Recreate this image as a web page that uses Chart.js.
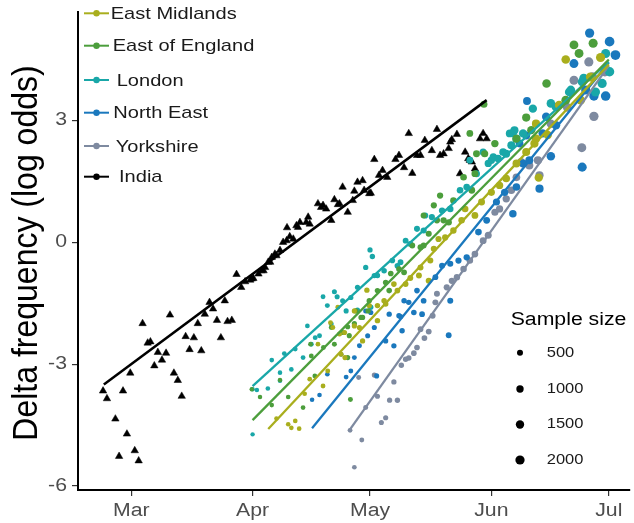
<!DOCTYPE html>
<html>
<head>
<meta charset="utf-8">
<script src="https://cdn.jsdelivr.net/npm/chart.js@4.4.0/dist/chart.umd.min.js"></script>
<style>
  html, body { margin: 0; padding: 0; background: #ffffff; overflow: hidden; }
  #wrap { width: 634px; height: 523px; }
</style>
</head>
<body>
<div id="wrap"><canvas id="chart" width="634" height="523"></canvas></div>
<script>
// x values are days counted from 1 March; y values are log odds of Delta.
const xTickDays = [0, 31, 61, 92, 122];
const xTickLabels = ['Mar', 'Apr', 'May', 'Jun', 'Jul'];
const yTickValues = [-6, -3, 0, 3];
const yTitle = 'Delta frequency (log odds)';
const sizeTitle = 'Sample size';
const sampleSizeBreaks = [500, 1000, 1500, 2000];
const regionNames = ['East Midlands', 'East of England', 'London', 'North East', 'Yorkshire'];
const indiaName = 'India';

// Regional daily points: [day, log odds, sample size]
const eastMidlandsPts = [
  [37.1,-4.34,150],[40.1,-4.48,160],[40.9,-4.57,160],[41.9,-4.40,170],[42.9,-4.59,170],[44.3,-3.73,180],
  [45.6,-3.37,190],[47.7,-2.51,200],[49.0,-3.54,200],[50.2,-3.17,210],[50.9,-1.98,220],[51.5,-2.10,220],
  [52.8,-1.60,230],[53.2,-2.26,240],[53.6,-2.76,240],[54.5,-2.22,250],[54.6,-2.84,250],[57.0,-2.06,270],
  [57.0,-1.69,270],[58.3,-2.10,280],[59.1,-2.43,290],[60.2,-1.18,300],[60.8,-1.56,310],[62.9,-1.93,330],
  [62.9,-1.56,330],[64.6,-1.44,350],[65.0,-1.52,360],[67.1,-1.03,380],[68.0,-1.19,400],[70.1,-1.03,420],
  [71.3,-0.88,440],[73.5,-0.82,470],[73.9,-0.62,480],[76.0,-0.95,500],[76.4,-0.45,510],[77.3,-0.16,530],
  [78.5,0.08,550],[80.2,0.12,580],[82.3,0.29,620],[84.4,0.54,680],[85.3,0.82,700],[87.8,0.66,760],
  [89.5,0.99,820],[92.0,1.23,900],[94.1,1.40,1000],[95.8,1.57,1100],[98.4,1.94,1200],[100.9,2.22,1300],
  [103.0,2.43,1400],[103.4,2.55,1400],[103.4,2.92,1400],[104.1,1.59,1450],[106.4,2.64,1500],[109.3,3.38,1600],
  [111.0,4.50,1650],[114.8,3.50,1750],[117.3,4.07,1850],[119.9,4.55,1950]
];
const eastOfEnglandPts = [
  [30.8,-3.62,150],[32.9,-3.81,140],[35.9,-4.01,150],[38.0,-3.39,160],[40.1,-3.81,170],[43.9,-4.07,180],
  [45.8,-2.51,190],[46.0,-2.80,200],[46.9,-3.29,190],[49.1,-2.59,210],[51.1,-2.10,220],[51.9,-2.51,230],
  [54.0,-2.22,240],[55.3,-2.84,250],[55.3,-2.08,250],[55.7,-2.30,260],[56.0,-3.87,230],[57.0,-2.00,270],
  [57.4,-1.69,280],[58.7,-1.85,290],[59.1,-1.85,290],[60.5,-1.69,300],[60.8,-1.44,310],[62.9,-1.19,330],
  [65.0,-0.99,360],[65.9,-1.19,370],[66.3,-0.77,380],[68.4,-0.66,400],[69.7,-0.74,420],[71.8,-0.08,450],
  [73.9,-0.12,480],[74.7,-0.08,490],[74.7,0.66,500],[76.0,0.21,520],[77.3,0.91,540],[78.1,0.54,560],
  [78.9,1.15,580],[79.8,0.54,600],[81.1,0.49,620],[82.3,1.03,650],[84.9,1.60,700],[86.5,2.68,750],
  [87.0,1.28,780],[87.8,1.69,800],[88.2,2.18,820],[90.1,3.40,880],[90.3,2.18,900],[92.9,2.43,1000],
  [98.4,2.55,1300],[100.9,3.07,1400],[102.2,2.76,1450],[106.1,3.91,1600],[111.0,3.50,1700],[113.1,4.86,1750],
  [114.4,4.65,1800],[118.0,4.90,1900]
];
const londonPts = [
  [31.0,-3.62,150],[32.1,-3.64,140],[34.9,-3.60,160],[31.0,-4.73,120],[35.9,-2.90,170],[38.0,-3.21,150],
  [38.0,-3.41,160],[39.1,-2.74,180],[40.9,-3.13,170],[41.9,-2.63,190],[43.9,-2.84,200],[45.0,-2.06,180],
  [46.0,-2.51,210],[47.0,-2.35,200],[48.1,-2.30,220],[49.0,-1.34,210],[50.1,-1.56,230],[51.1,-2.01,220],
  [51.9,-1.22,240],[52.6,-1.34,250],[54.0,-1.44,240],[54.9,-1.69,260],[56.1,-1.36,270],[57.8,-1.11,280],
  [57.8,-1.67,260],[59.9,-0.62,300],[61.0,-0.19,290],[61.2,-1.60,300],[61.6,-0.35,320],[62.1,-0.82,310],
  [62.9,-0.82,330],[64.6,-0.70,350],[66.7,-0.45,380],[68.0,-0.58,400],[68.8,-0.49,420],[70.1,0.04,450],
  [71.3,-0.04,470],[73.0,0.33,500],[74.7,0.29,520],[75.1,0.66,540],[76.8,0.62,560],[79.4,0.78,600],
  [81.5,0.82,650],[84.0,1.28,700],[85.7,1.36,750],[86.5,2.02,800],[88.2,1.69,850],[89.9,2.22,900],
  [91.2,1.94,950],[92.0,2.02,1000],[92.5,2.10,1000],[93.7,2.06,1100],[95.0,2.22,1150],[95.8,2.18,1200],
  [96.7,2.68,1250],[97.1,2.39,1300],[97.5,2.69,1300],[97.9,2.76,1350],[98.4,2.55,1400],[100.1,2.68,1450],
  [102.6,3.29,1500],[107.2,3.42,1600],[108.5,3.33,1650],[111.9,3.70,1700],[112.3,3.75,1700],[115.2,3.95,1800],
  [115.6,4.04,1800],[118.6,3.70,1900],[120.3,3.91,2000],[121.2,4.65,1900],[122.2,4.20,2100]
];
const northEastPts = [
  [46.2,-3.88,150],[48.1,-3.76,160],[50.1,-3.25,170],[53.6,-2.76,190],[54.9,-3.32,200],[56.1,-3.17,210],
  [57.0,-2.84,220],[58.3,-2.55,230],[59.9,-1.69,240],[60.4,-2.30,250],[61.2,-1.73,260],[62.1,-2.10,260],
  [62.7,-3.29,250],[65.0,-2.43,280],[65.9,-1.77,300],[67.1,-2.55,300],[68.4,-1.81,320],[68.8,-1.83,330],
  [69.2,-2.18,330],[69.7,-1.44,340],[70.9,-1.48,350],[72.2,-1.73,370],[73.0,-1.19,380],[74.3,-1.77,400],
  [74.7,-1.44,410],[77.7,-0.86,450],[79.4,-0.58,480],[81.1,-2.29,450],[81.5,-1.44,500],[81.5,-0.53,520],
  [83.6,-0.45,560],[85.7,-0.37,600],[88.7,0.25,700],[90.8,0.54,780],[93.3,0.99,900],[95.4,1.23,1000],
  [97.5,0.70,1050],[98.4,1.36,1100],[99.2,2.43,1150],[100.1,1.94,1200],[100.9,2.63,1250],[101.1,3.48,1250],
  [101.7,2.02,1300],[104.3,1.32,1400],[105.1,2.68,1450],[106.0,3.09,1500],[107.2,2.12,1550],[108.5,2.88,1600],
  [113.1,4.40,1800],[115.2,1.85,1900],[116.1,3.75,1950],[117.1,5.15,2000],[118.2,3.60,2050],[121.2,3.60,2200],
  [122.2,4.94,2300],[123.7,4.61,2300]
];
const yorkshirePts = [
  [55.9,-4.63,200],[57.0,-5.54,180],[58.1,-3.33,220],[58.9,-4.87,210],[59.9,-4.07,230],[62.1,-3.27,260],
  [62.9,-3.79,260],[63.9,-4.44,250],[65.0,-4.32,270],[66.0,-3.89,290],[67.1,-3.44,300],[68.0,-3.89,310],
  [69.0,-3.03,330],[70.1,-2.88,350],[70.9,-2.85,360],[72.2,-2.73,380],[73.0,-2.59,390],[73.9,-2.14,400],
  [74.9,-2.36,420],[76.0,-2.20,440],[77.0,-1.81,460],[77.7,-1.48,480],[78.1,-1.27,490],[80.6,-1.11,540],
  [81.9,-0.95,580],[83.2,-0.86,610],[84.9,-0.66,650],[86.5,-0.45,700],[87.8,-0.29,740],[89.9,0.04,800],
  [91.2,0.17,850],[92.9,0.74,900],[94.1,0.82,950],[95.8,1.07,1000],[97.1,1.28,1100],[98.4,1.60,1150],
  [99.6,1.98,1200],[101.7,1.89,1300],[103.9,2.02,1400],[104.3,1.65,1400],[107.2,2.92,1550],[111.4,3.32,1700],
  [113.1,3.99,1800],[115.1,2.33,1850],[116.9,4.44,1950],[117.8,4.07,2000],[118.2,3.10,2000],[121.0,4.20,2100]
];

// India daily points: [day, log odds]
const indiaPts = [
  [-7.2,-3.66],[-6.2,-3.85],[-4.05,-4.35],[-3.1,-5.27],[-2.1,-3.66],[-1.1,-4.72],[-0.25,-3.22],[0.9,-5.13],
  [1.9,-5.38],[2.9,-2.0],[4.2,-2.48],[4.9,-2.45],[5.9,-3.04],[6.8,-2.71],[7.85,-2.9],[8.9,-2.73],
  [9.9,-1.79],[10.9,-3.22],[11.9,-3.40],[12.9,-3.79],[13.9,-2.32],[14.9,-2.64],[16.0,-2.35],[17.0,-2.0],
  [17.9,-2.67],[18.8,-1.77],[20.0,-1.48],[20.9,-1.64],[21.9,-1.92],[22.9,-2.35],[23.9,-1.44],[24.6,-1.95],
  [25.7,-1.92],[26.9,-0.79],[28.1,-1.11],[29.1,-0.97],[30.4,-0.93],[30.8,-0.90],[31.2,-0.89],[32.5,-0.78],
  [33.3,-0.70],[33.8,-0.70],[34.2,-0.62],[35.0,-0.49],[35.5,-0.49],[35.9,-0.37],[36.7,-0.29],[37.1,-0.33],
  [38.0,-0.20],[38.8,0.0],[39.7,0.04],[39.8,0.36],[40.5,0.14],[41.4,0.08],[42.2,0.41],[42.6,0.37],
  [43.1,0.49],[44.7,0.49],[45.2,0.62],[45.6,0.45],[47.7,0.95],[48.5,0.86],[49.0,0.91],[49.8,0.82],
  [51.1,0.54],[51.9,1.05],[52.8,0.93],[53.2,0.95],[54.0,1.36],[55.3,0.74],[56.6,1.03],[57.0,1.26],
  [57.8,1.48],[59.1,1.52],[59.5,1.28],[60.8,1.20],[61.2,1.21],[62.1,2.04],[63.3,1.65],[64.2,1.77],
  [65.4,1.60],[67.5,2.04],[68.4,2.14],[69.7,1.84],[70.9,2.68],[71.8,1.70],[73.0,2.14],[73.9,2.14],
  [75.0,2.51],[76.8,2.26],[78.1,2.78],[78.9,2.14],[79.8,2.18],[81.1,2.31],[81.5,2.47],[81.9,2.53],
  [83.2,2.66],[84.0,1.69],[85.3,2.22],[86.1,2.06],[86.5,2.02],[87.0,1.98],[87.8,1.81],[89.1,2.55],
  [89.9,2.68],[90.8,2.55]
];

// Fitted logistic-growth lines: [[start day, log odds], [end day, log odds]]
const eastMidlandsFit = [[35.0,-4.60],[122,4.38]];
const eastOfEnglandFit = [[31.0,-4.38],[122,4.50]];
const londonFit = [[31.0,-3.54],[122,4.45]];
const northEastFit = [[46.2,-4.58],[122,4.42]];
const yorkshireFit = [[55.8,-4.62],[122,4.35]];
const indiaFit = [[-7.0,-3.50],[90.8,3.50]];

// ---- styling ----
const regionColours = ['#A9AE1D', '#4C9E3C', '#19A7A8', '#1A78BD', '#7E8AA0'];
const indiaColour = '#000000';
const FONT = '"Liberation Sans", Arial, Helvetica, sans-serif';
const STRETCH = 1.18;
const sizeToRadius = n => 1.4 + 0.072 * Math.sqrt(n);

const regionPts = [eastMidlandsPts, eastOfEnglandPts, londonPts, northEastPts, yorkshirePts];
const regionFits = [eastMidlandsFit, eastOfEnglandFit, londonFit, northEastFit, yorkshireFit];

const datasets = [];
regionFits.forEach((fit, i) => {
  datasets.push({
    label: regionNames[i] + ' fit',
    data: fit.map(p => ({ x: p[0], y: p[1] })),
    showLine: true, borderColor: regionColours[i], borderWidth: 2.3,
    pointRadius: 0, order: 0
  });
});
datasets.push({
  label: indiaName + ' fit',
  data: indiaFit.map(p => ({ x: p[0], y: p[1] })),
  showLine: true, borderColor: indiaColour, borderWidth: 2.5,
  pointRadius: 0, order: 0
});
regionPts.forEach((pts, i) => {
  datasets.push({
    label: regionNames[i],
    data: pts.map(p => ({ x: p[0], y: p[1], n: p[2] })),
    showLine: false,
    backgroundColor: regionColours[i], borderWidth: 0,
    pointRadius: ctx => sizeToRadius(ctx.raw && ctx.raw.n ? ctx.raw.n : 500),
    order: 1
  });
});
datasets.push({
  label: indiaName,
  data: indiaPts.map(p => ({ x: p[0], y: p[1] })),
  showLine: false, pointStyle: 'triangle',
  backgroundColor: indiaColour, borderColor: indiaColour, borderWidth: 0.5,
  pointRadius: 4.3, order: 1
});

function drawLabel(ctx, text, x, y, size, colour, align, baseline) {
  ctx.save();
  ctx.translate(x, y);
  ctx.scale(STRETCH, 1);
  ctx.font = size + 'px ' + FONT;
  ctx.fillStyle = colour;
  ctx.textAlign = align || 'left';
  ctx.textBaseline = baseline || 'middle';
  ctx.fillText(text, 0, 0);
  ctx.restore();
}

const textLayer = {
  id: 'textLayer',
  afterDraw(chart) {
    const ctx = chart.ctx;
    const xs = chart.scales.x, ys = chart.scales.y;

    // tick labels
    yTickValues.forEach(v => drawLabel(ctx, String(v), 67, ys.getPixelForValue(v), 18, '#4d4d4d', 'right'));
    xTickDays.forEach((d, i) => drawLabel(ctx, xTickLabels[i], xs.getPixelForValue(d), 511, 18, '#4d4d4d', 'center'));

    // y axis title
    ctx.save();
    ctx.translate(37, (chart.chartArea.top + chart.chartArea.bottom) / 2 + 2);
    ctx.rotate(-Math.PI / 2);
    ctx.scale(1, 1.09);
    ctx.font = '32px ' + FONT;
    ctx.fillStyle = '#000000';
    ctx.textAlign = 'center';
    ctx.textBaseline = 'alphabetic';
    ctx.fillText(yTitle, 0, 0);
    ctx.restore();

    // colour key
    const keyNames = regionNames.concat([indiaName]);
    const keyColours = regionColours.concat([indiaColour]);
    const rowY = [13.3, 45.7, 80, 112.7, 146, 176.7];
    const textX = [110.7, 112.7, 116.7, 113.3, 115.7, 119];
    keyNames.forEach((name, i) => {
      const y = rowY[i];
      ctx.save();
      ctx.strokeStyle = keyColours[i];
      ctx.lineWidth = 2;
      ctx.beginPath(); ctx.moveTo(84, y); ctx.lineTo(109, y); ctx.stroke();
      ctx.fillStyle = keyColours[i];
      ctx.beginPath(); ctx.arc(96.5, y, 3.2, 0, Math.PI * 2); ctx.fill();
      ctx.restore();
      drawLabel(ctx, name, textX[i], y + 1, 17, '#1a1a1a', 'left');
    });

    // sample size key
    drawLabel(ctx, sizeTitle, 510.7, 320, 18, '#000000', 'left');
    const sizeRowY = [352.7, 389, 424.5, 460];
    sampleSizeBreaks.forEach((n, i) => {
      ctx.save();
      ctx.fillStyle = '#000000';
      ctx.beginPath(); ctx.arc(520, sizeRowY[i], sizeToRadius(n), 0, Math.PI * 2); ctx.fill();
      ctx.restore();
      drawLabel(ctx, String(n), 546.7, sizeRowY[i], 14, '#1a1a1a', 'left');
    });
  }
};

new Chart(document.getElementById('chart'), {
  type: 'scatter',
  data: { datasets },
  options: {
    responsive: false,
    devicePixelRatio: 1,
    animation: false,
    layout: { padding: { top: 12, right: 0, bottom: 0, left: 0 } },
    plugins: { legend: { display: false }, tooltip: { enabled: false } },
    scales: {
      x: {
        type: 'linear', position: 'bottom', min: -13.6, max: 127.2,
        afterBuildTicks: s => { s.ticks = xTickDays.map(v => ({ value: v })); },
        afterFit: s => { s.height = 33; },
        ticks: { display: false },
        grid: { drawOnChartArea: false, drawTicks: true, tickLength: 6, color: '#333333', lineWidth: 1.2 },
        border: { display: true, color: '#000000', width: 2 }
      },
      y: {
        type: 'linear', position: 'left', min: -6.10, max: 5.67,
        afterBuildTicks: s => { s.ticks = yTickValues.map(v => ({ value: v })); },
        afterFit: s => { s.width = 78; },
        ticks: { display: false },
        grid: { drawOnChartArea: false, drawTicks: true, tickLength: 6, color: '#333333', lineWidth: 1.2 },
        border: { display: true, color: '#000000', width: 2 }
      }
    }
  },
  plugins: [textLayer]
});
</script>
</body>
</html>
